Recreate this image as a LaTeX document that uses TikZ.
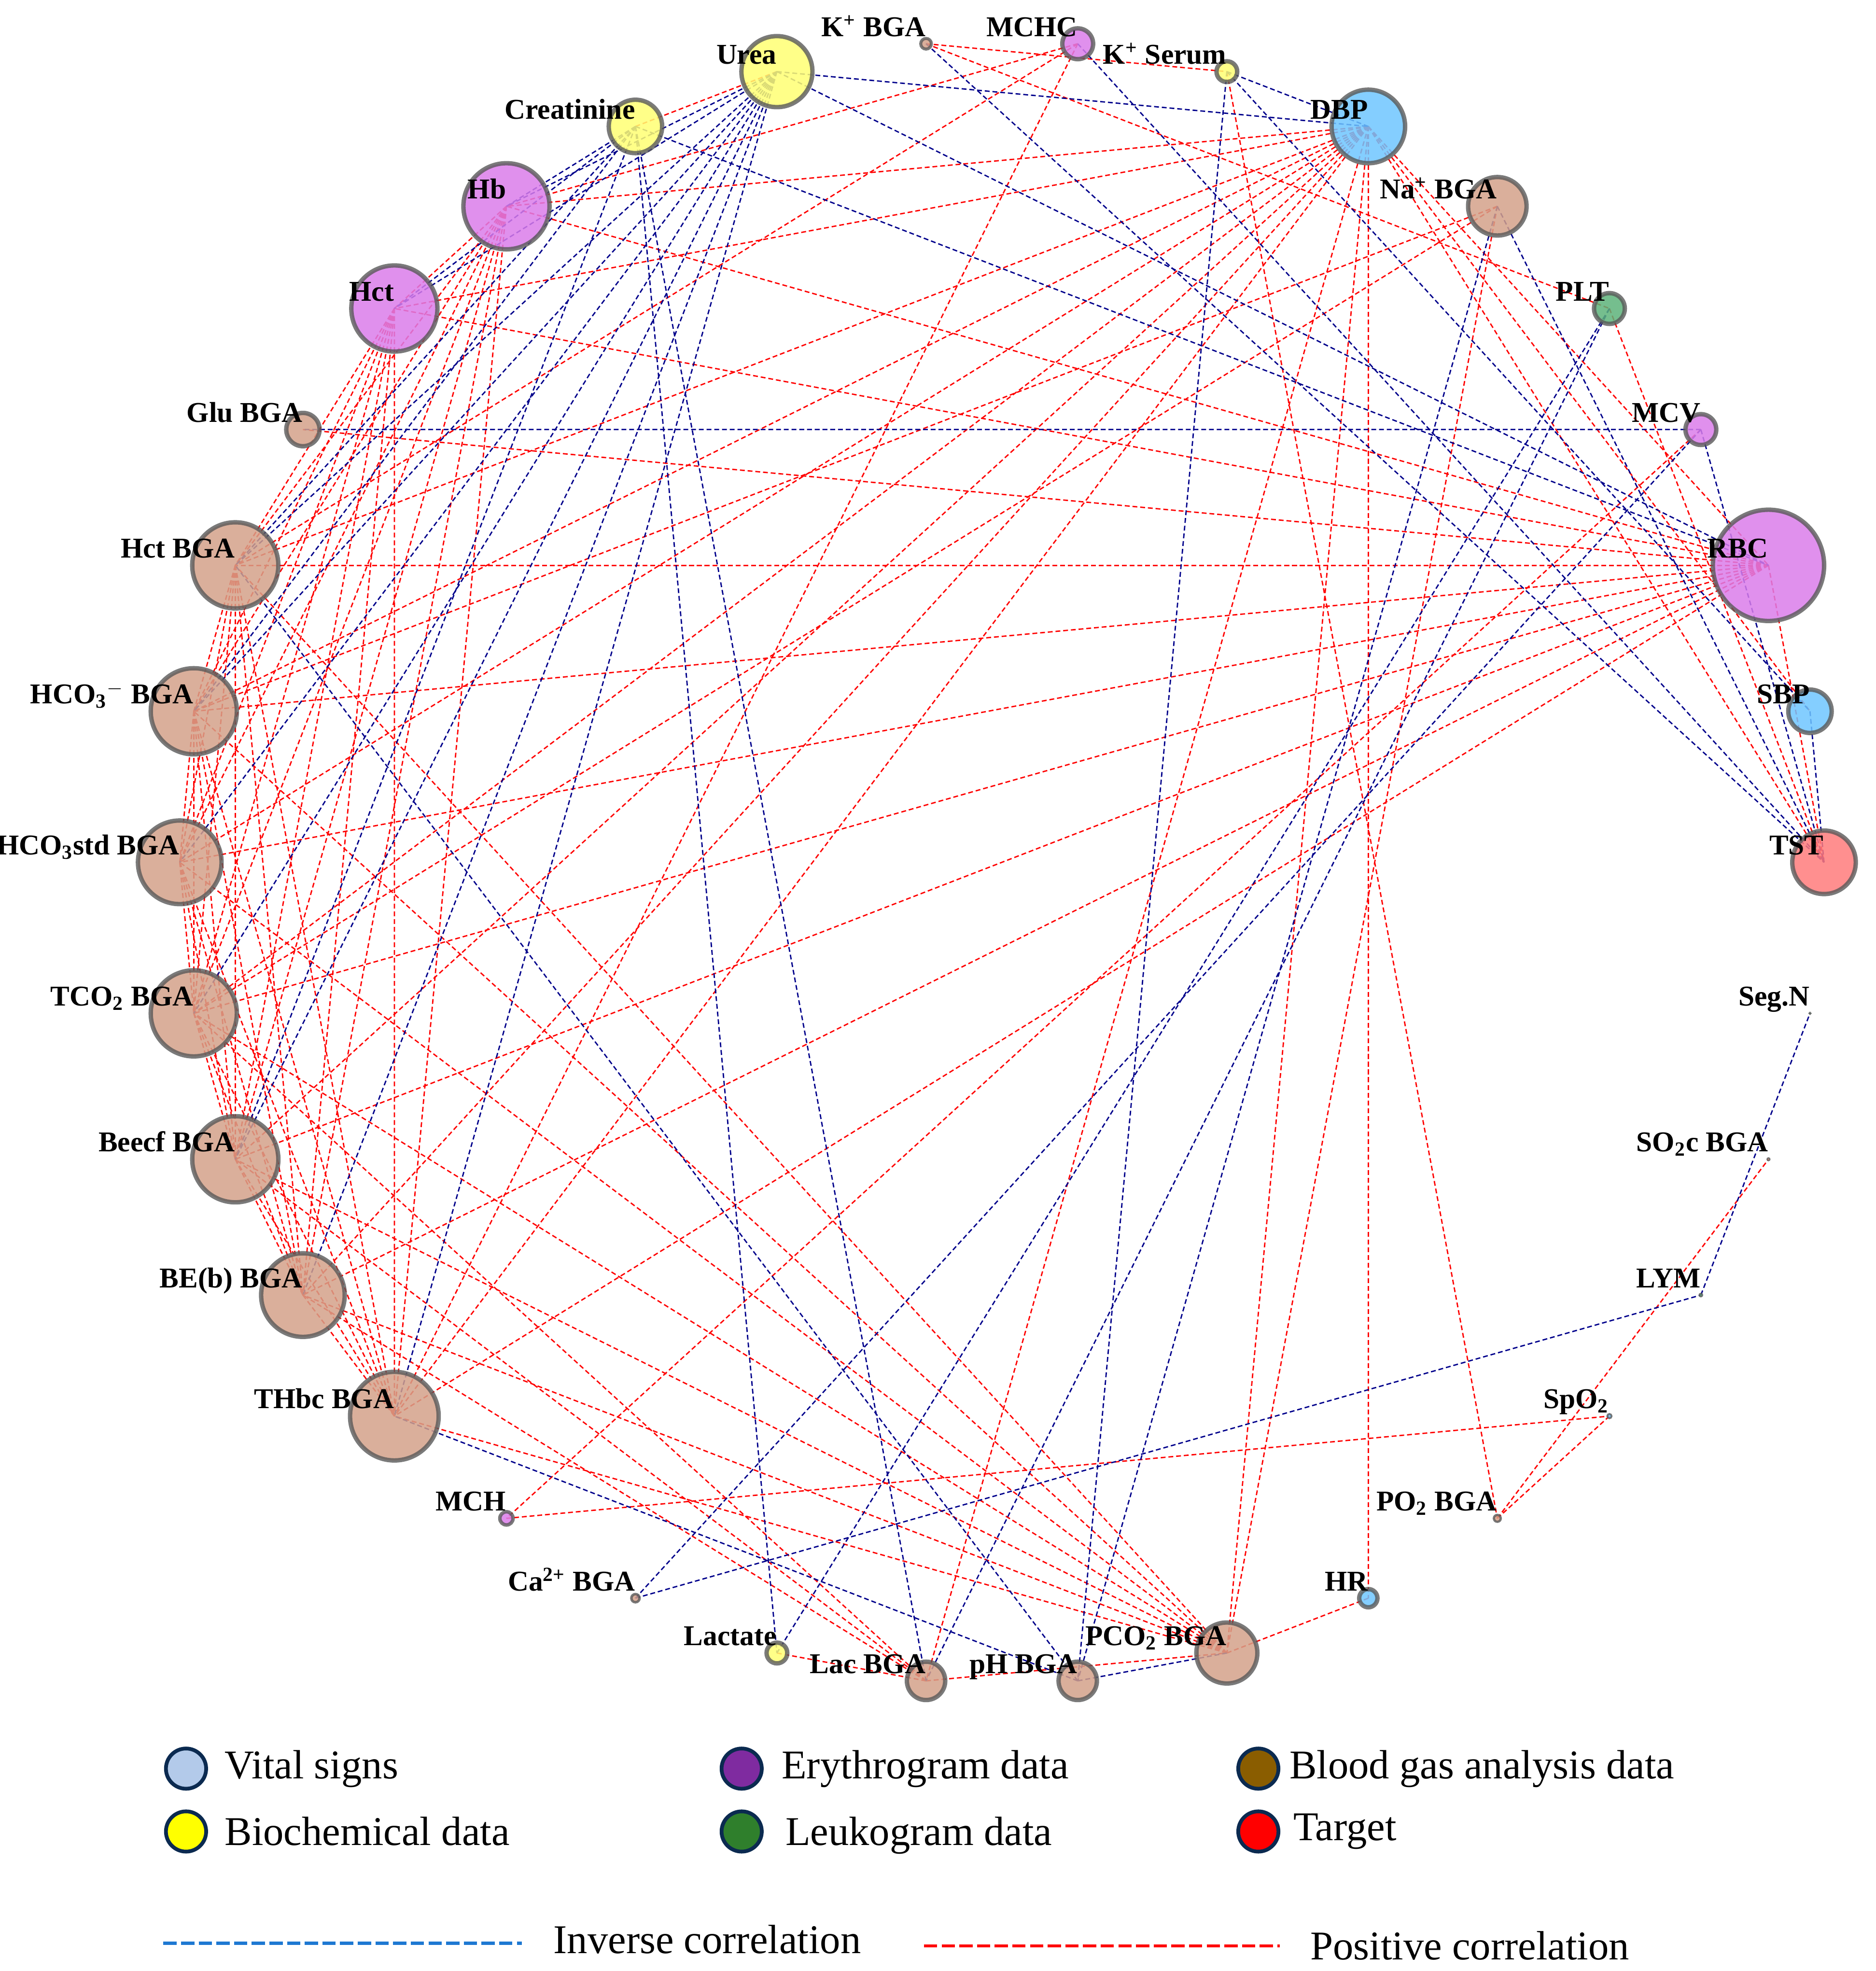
\documentclass[tikz,border=0pt]{standalone}
\usepackage{fontspec}
\setmainfont{Liberation Serif}
\usetikzlibrary{positioning}

\definecolor{vitfill}{HTML}{6EC6FF}
\definecolor{eryfill}{HTML}{DA7DEA}
\definecolor{biofill}{HTML}{FFFF73}
\definecolor{bgafill}{HTML}{D4A189}
\definecolor{leufill}{HTML}{5DB37A}
\definecolor{tgtfill}{HTML}{FF7B7B}
\definecolor{posred}{HTML}{FF0000}
\definecolor{negblue}{HTML}{00008B}
\definecolor{lgvit}{HTML}{B3CAEA}
\definecolor{lgery}{HTML}{7F2BA0}
\definecolor{lgbga}{HTML}{8A5D00}
\definecolor{lgbio}{HTML}{FFFF00}
\definecolor{lgleu}{HTML}{2F7F2C}
\definecolor{lgtgt}{HTML}{FF0000}
\definecolor{lgrim}{HTML}{0B2A50}
\definecolor{lgdash}{HTML}{1E78D2}

\pgfdeclarelayer{edges}
\pgfsetlayers{edges,main}

% index/name/label/radius(px)/style, counter-clockwise from TST
\newcommand{\corrnodes}{0/TST/TST/27/tgt, 1/SBP/SBP/19/vit, 2/RBC/RBC/46/ery,
 3/MCV/MCV/14/ery, 4/PLT/PLT/14/leu, 5/Na/{Na\textsuperscript{+} BGA}/25/bga,
 6/DBP/DBP/31/vit, 7/KS/{K\textsuperscript{+} Serum}/10/bio, 8/MCHC/MCHC/14/ery,
 9/KB/{K\textsuperscript{+} BGA}/6/bga, 10/Urea/Urea/30/bio, 11/Crea/Creatinine/23/bio,
 12/Hb/Hb/36/ery, 13/Hct/Hct/36/ery, 14/Glu/Glu BGA/15/bga, 15/HctB/Hct BGA/36/bga,
 16/HCOm/{HCO\textsubscript{3}\textsuperscript{$-$} BGA}/36/bga,
 17/HCOs/{HCO\textsubscript{3}std BGA}/35/bga, 18/TCO/{TCO\textsubscript{2} BGA}/36/bga,
 19/Beecf/Beecf BGA/36/bga, 20/BEb/BE(b) BGA/35/bga, 21/THbc/THbc BGA/37/bga,
 22/MCH/MCH/7/ery, 23/Ca/{Ca\textsuperscript{2+} BGA}/5/bga, 24/Lactate/Lactate/10/bio,
 25/Lac/Lac BGA/17/bga, 26/pH/pH BGA/17/bga, 27/PCO/{PCO\textsubscript{2} BGA}/26/bga,
 28/HR/HR/9/vit, 29/PO/{PO\textsubscript{2} BGA}/4.5/bga, 30/SpO/{SpO\textsubscript{2}}/3.5/vit,
 31/LYM/LYM/3/leu, 32/SOc/{SO\textsubscript{2}c BGA}/2.8/bga, 33/SegN/Seg.N/2.5/leu}

\tikzset{
  dotnode/.style={circle,inner sep=0pt,draw=black!65,draw opacity=0.8,fill opacity=0.85},
  tgt/.style={dotnode,fill=tgtfill},
  vit/.style={dotnode,fill=vitfill},
  ery/.style={dotnode,fill=eryfill},
  bio/.style={dotnode,fill=biofill},
  bga/.style={dotnode,fill=bgafill},
  leu/.style={dotnode,fill=leufill},
  poscorr/.style={posred,line width=0.6pt,dash pattern=on 2.2pt off 1.3pt},
  invcorr/.style={negblue,line width=0.6pt,dash pattern=on 2.2pt off 1.3pt},
  lbl/.style={font=\fontsize{13}{15}\selectfont\bfseries,inner sep=0pt},
  legdot/.style={circle,inner sep=0pt,minimum size=0.64cm,draw=lgrim,line width=0.06cm},
  legtxt/.style={font=\fontsize{18.5}{22}\selectfont,inner sep=0pt},
  legline/.style={line width=0.05cm,dash pattern=on 6pt off 2pt}
}

\begin{document}
\begin{tikzpicture}[x=0.02cm,y=0.02cm]
\useasboundingbox (-797,-882) rectangle (695,686);

% variables round the circle
\foreach \i/\nm/\lab/\r/\cl in \corrnodes
\node[\cl,minimum size={(2*\r-3.5)*0.02cm},line width={min(3.5,0.4*\r)*0.02cm}] (\nm) at ({\i*360/34}:654) {};

% correlations
\begin{pgfonlayer}{edges}
\foreach \a [count=\k] in {Hb,Hct,HctB,HCOm,HCOs,TCO,Beecf,BEb,THbc}
\foreach \b [count=\m] in {Hb,Hct,HctB,HCOm,HCOs,TCO,Beecf,BEb,THbc}
{\ifnum\m>\k \draw[poscorr] (\a.center) -- (\b.center); \fi}
\foreach \a/\b in {DBP/Hb,DBP/Hct,DBP/HctB,DBP/HCOm,DBP/HCOs,DBP/TCO,DBP/Beecf,DBP/BEb,
  DBP/THbc,DBP/Lac,DBP/PCO,DBP/HR,DBP/SBP,DBP/RBC,DBP/TST,
  RBC/Hb,RBC/Hct,RBC/Glu,RBC/HctB,RBC/HCOm,RBC/HCOs,RBC/TCO,RBC/Beecf,RBC/BEb,RBC/THbc,RBC/TST,
  Na/HCOm,Na/TCO,Na/PCO,KB/KS,KB/PLT,PLT/TST,MCHC/Hb,MCHC/HctB,MCHC/THbc,Urea/Crea,
  MCV/MCH,MCH/SpO,KS/PO,PO/SOc,PO/SpO,Lactate/Lac,Lac/PCO,Lac/BEb,Lac/Beecf,Lac/TCO,
  PCO/THbc,PCO/BEb,PCO/Beecf,PCO/TCO,PCO/HCOs,PCO/HCOm,PCO/HctB,PCO/HR}
\draw[poscorr] (\a.center) -- (\b.center);
\foreach \a/\b in {Urea/Hb,Urea/Hct,Urea/HctB,Urea/HCOm,Urea/HCOs,Urea/TCO,Urea/Beecf,
  Urea/BEb,Urea/THbc,Urea/DBP,Urea/RBC,
  Crea/Hb,Crea/Hct,Crea/HctB,Crea/HCOm,Crea/Beecf,Crea/Lactate,Crea/Lac,Crea/RBC,
  KS/DBP,KS/pH,KS/SBP,KB/TST,MCHC/TST,Na/TST,Na/pH,MCV/TST,SBP/TST,MCV/Glu,MCV/Ca,
  Ca/LYM,LYM/SegN,PLT/Lactate,PLT/Lac,pH/HctB,pH/THbc,pH/PCO}
\draw[invcorr] (\a.center) -- (\b.center);
\end{pgfonlayer}

% names
\foreach \i/\nm/\lab/\r/\cl in \corrnodes
\node[lbl,anchor=base east] (\nm-t) at ([yshift=0.12cm]\nm.center) {\lab};

% legend
\node[legdot,fill=lgvit] (lv) at (-649,-721) {};
\node[legtxt,right=0.26cm of lv] (lvt) {Vital signs};
\node[legdot,fill=lgery] (le) at (-207,-721) {};
\node[legtxt,right=0.28cm of le] (let) {Erythrogram data};
\node[legdot,fill=lgbga] (lg) at (204,-721) {};
\node[legtxt,right=0.14cm of lg] (lgt) {Blood gas analysis data};
\node[legdot,fill=lgbio] (lb) at (-649,-771) {};
\node[legtxt,right=0.26cm of lb] (lbt) {Biochemical data};
\node[legdot,fill=lgleu] (ll) at (-207,-771) {};
\node[legtxt,right=0.34cm of ll,yshift=-0.06cm] (llt) {Leukogram data};
\node[legdot,fill=lgtgt] (lt) at (204,-771) {};
\node[legtxt,right=0.2cm of lt] (ltt) {Target};

\coordinate (ni1) at (-667,-860);
\coordinate (ni2) at (-382,-860);
\draw[legline,lgdash] (ni1) -- (ni2);
\node[legtxt,right=0.5cm of ni2,yshift=0.06cm] (nit) {Inverse correlation};
\coordinate (pi1) at (-62,-862);
\coordinate (pi2) at (221,-862);
\draw[legline,posred] (pi1) -- (pi2);
\node[legtxt,right=0.48cm of pi2] (pit) {Positive correlation};
\end{tikzpicture}
\end{document}
